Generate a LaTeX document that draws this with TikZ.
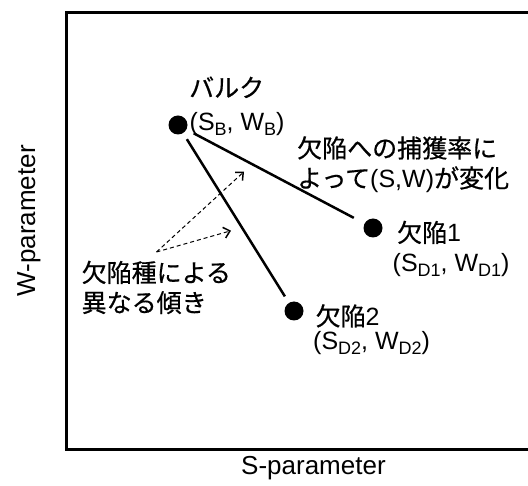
\documentclass[tikz,border=0pt]{standalone}
\usepackage{fontspec}
\setmainfont{Liberation Sans}
\newfontfamily\jp[FakeBold=0.6]{Noto Sans CJK JP}
\usetikzlibrary{arrows.meta}
\newcommand\sbs[1]{\raisebox{-5pt}{\fontsize{18}{18}\selectfont #1}}
\tikzset{
  lbl/.style={inner sep=0pt, anchor=base west, font=\fontsize{25}{30}\selectfont},
  axislbl/.style={inner sep=0pt, anchor=base west, font=\fontsize{26}{30}\selectfont},
  dot/.style={circle, fill=black, minimum size=19pt, inner sep=0pt},
  link/.style={line width=2.5pt},
  hint/.style={dash pattern=on 4pt off 3pt, line width=1pt,
    -{Straight Barb[length=6pt,width=11pt,line width=1.5pt]}},
  frame/.style={line width=3pt}
}
\begin{document}
\begin{tikzpicture}[x=1pt,y=-1pt]
\useasboundingbox (0,0) rectangle (528,486);
\clip (0,0) rectangle (528,486);
% frame (right side cut off)
\draw[frame] (530,13) -- (66.8,13) -- (66.8,450) -- (530,450);
% points
\node[dot] (bulk) at (178,125) {};
\node[dot] (d1) at (373,228) {};
\node[dot] (d2) at (294,311) {};
% lines
\draw[link, shorten <=8pt, shorten >=12pt] (bulk) -- (d1);
\draw[link, shorten <=7pt, shorten >=7.5pt] (bulk) -- (d2);
% labels
\node[lbl] (bulkA) at (189,97) {\jp バルク};
\node[lbl] (bulkB) at (189.5,131) {(S\sbs{B}, W\sbs{B})};
\node[lbl] (capA) at (297,157.5) {\jp 欠陥への捕獲率に};
\node[lbl] (capB) at (297,187.5) {{\jp よって}(S,W){\jp が変化}};
\node[lbl] (d1A) at (397,242) {{\jp 欠陥}1};
\node[lbl] (d1B) at (392.5,271.5) {(S\sbs{D1}, W\sbs{D1})};
\node[lbl] (d2A) at (315.5,325.5) {{\jp 欠陥}2};
\node[lbl] (d2B) at (313,350) {(S\sbs{D2}, W\sbs{D2})};
\node[lbl] (slA) at (81.5,282) {\jp 欠陥種による};
\node[lbl] (slB) at (81.5,312) {\jp 異なる傾き};
% axis labels
\node[axislbl] (sax) at (241,475) {S-parameter};
\node[axislbl, rotate=90] (wax) at (35,296.7) {W-parameter};
% dashed arrows
\coordinate (hs) at (156.5,252);
\coordinate (he1) at (244,171.7);
\coordinate (he2) at (231,230.7);
\draw[hint] (hs) -- (he1);
\draw[hint] (hs) -- (he2);
\end{tikzpicture}
\end{document}
